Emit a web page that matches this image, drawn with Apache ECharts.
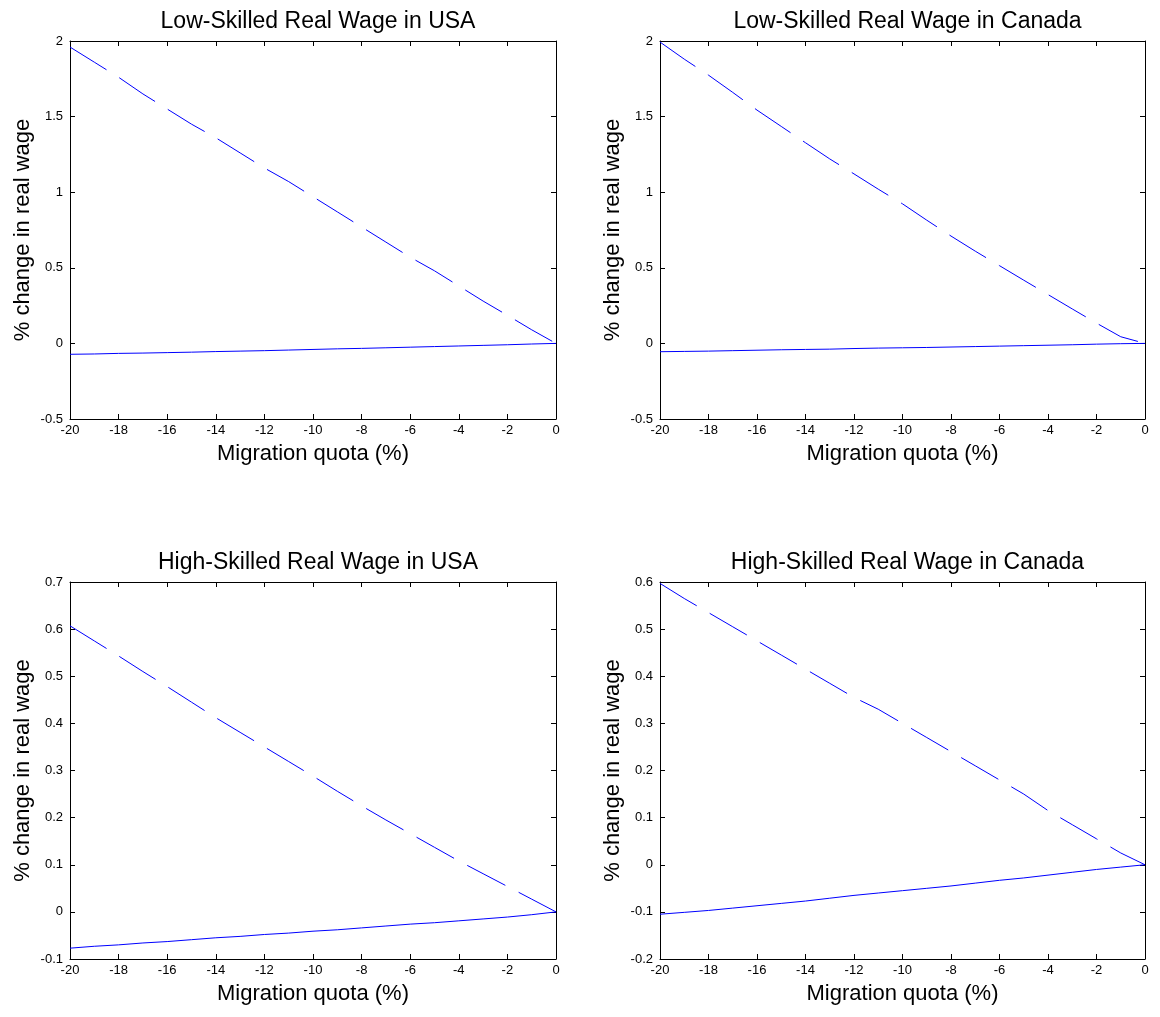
<!DOCTYPE html>
<html>
<head>
<meta charset="utf-8">
<script src="https://cdn.jsdelivr.net/npm/echarts@6/dist/echarts.min.js"></script>
<style>
html,body{margin:0;padding:0;background:#fff;}
#c{width:1160px;height:1017px;}
</style>
</head>
<body>
<div id="c"></div>
<script>
var quota = [-20,-19,-18,-17,-16,-15,-14,-13,-12,-11,-10,-9,-8,-7,-6,-5,-4,-3,-2,-1,0];
var xTicks = [-20,-18,-16,-14,-12,-10,-8,-6,-4,-2,0];

var titles = ['Low-Skilled Real Wage in USA','Low-Skilled Real Wage in Canada','High-Skilled Real Wage in USA','High-Skilled Real Wage in Canada'];
var xName = 'Migration quota (%)';
var yName = '% change in real wage';

// Low-skilled USA
var lowUsaDashed = [1.96,1.86,1.76,1.65,1.55,1.45,1.36,1.26,1.16,1.07,0.97,0.87,0.77,0.67,0.57,0.48,0.38,0.28,0.186,0.09,0];
var lowUsaSolid = [-0.072,-0.070,-0.066,-0.064,-0.061,-0.058,-0.054,-0.051,-0.048,-0.044,-0.040,-0.036,-0.033,-0.029,-0.025,-0.021,-0.017,-0.013,-0.009,-0.004,0];
// Low-skilled Canada
var lowCanDashed = [1.993,1.88,1.774,1.66,1.543,1.435,1.327,1.22,1.121,1.02,0.923,0.815,0.710,0.61,0.514,0.418,0.323,0.228,0.134,0.044,0];
var lowCanSolid = [-0.055,-0.053,-0.051,-0.048,-0.045,-0.042,-0.040,-0.038,-0.034,-0.031,-0.029,-0.027,-0.024,-0.021,-0.018,-0.015,-0.012,-0.009,-0.005,-0.002,0];
// High-skilled USA
var highUsaDashed = [0.607,0.575,0.543,0.510,0.478,0.445,0.412,0.381,0.350,0.319,0.288,0.256,0.225,0.195,0.166,0.137,0.108,0.081,0.054,0.027,0];
var highUsaSolid = [-0.077,-0.073,-0.070,-0.066,-0.063,-0.059,-0.055,-0.052,-0.048,-0.045,-0.041,-0.038,-0.034,-0.030,-0.026,-0.023,-0.019,-0.015,-0.011,-0.006,0];
// High-skilled Canada
var highCanDashed = [0.597,0.565,0.535,0.505,0.475,0.445,0.415,0.385,0.355,0.33,0.30,0.27,0.24,0.21,0.18,0.15,0.115,0.085,0.055,0.025,0];
var highCanSolid = [-0.105,-0.101,-0.097,-0.092,-0.087,-0.082,-0.077,-0.071,-0.065,-0.060,-0.055,-0.050,-0.045,-0.039,-0.033,-0.028,-0.022,-0.016,-0.010,-0.005,0];

var yRanges = [
  {min:-0.5, max:2, interval:0.5},
  {min:-0.5, max:2, interval:0.5},
  {min:-0.1, max:0.7, interval:0.1},
  {min:-0.2, max:0.6, interval:0.1}
];
var dashedSets = [lowUsaDashed, lowCanDashed, highUsaDashed, highCanDashed];
var solidSets = [lowUsaSolid, lowCanSolid, highUsaSolid, highCanSolid];

var FONT = '"Liberation Sans", Arial, sans-serif';
var grids = [
  {left:70, right:604, top:41, height:378},
  {left:660, right:15, top:41, height:378},
  {left:70, right:604, top:582, height:377},
  {left:660, right:15, top:582, height:377}
];

function pairs(vals){ return quota.map(function(q,i){ return [q, vals[i]]; }); }

var option = {
  animation:false,
  backgroundColor:'#fff',
  title:[], grid:[], xAxis:[], yAxis:[], series:[]
};
var axLine = {show:true, onZero:false, lineStyle:{color:'#000', width:1}};
var axTick = {show:true, inside:true, length:5, lineStyle:{color:'#000', width:1}};

grids.forEach(function(g, k){
  option.grid.push({left:g.left, right:g.right, top:g.top, height:g.height, containLabel:false});
  var cx = g.left + (1160 - g.left - g.right)/2;
  option.title.push({text:titles[k], left:cx, top:g.top-36, textAlign:'center',
    textStyle:{fontFamily:FONT, fontSize:23, fontWeight:'normal', color:'#000'}});
  option.xAxis.push({type:'value', gridIndex:k, position:'bottom', min:-20, max:0, interval:2,
    axisLine:axLine, axisTick:axTick, splitLine:{show:false},
    axisLabel:{fontFamily:FONT, fontSize:13, color:'#000', margin:5, showMinLabel:true, showMaxLabel:true},
    name:xName, nameLocation:'middle', nameGap:24,
    nameTextStyle:{fontFamily:FONT, fontSize:22, color:'#000'}});
  option.xAxis.push({type:'value', gridIndex:k, position:'top', min:-20, max:0, interval:2,
    axisLine:axLine, axisTick:axTick, splitLine:{show:false}, axisLabel:{show:false}});
  var yr = yRanges[k];
  option.yAxis.push({type:'value', gridIndex:k, position:'left', min:yr.min, max:yr.max, interval:yr.interval,
    axisLine:axLine, axisTick:axTick, splitLine:{show:false},
    axisLabel:{fontFamily:FONT, fontSize:13, color:'#000', margin:7},
    name:yName, nameLocation:'middle', nameGap:36,
    nameTextStyle:{fontFamily:FONT, fontSize:22, color:'#000'}});
  option.yAxis.push({type:'value', gridIndex:k, position:'right', min:yr.min, max:yr.max, interval:yr.interval,
    axisLine:axLine, axisTick:axTick, splitLine:{show:false}, axisLabel:{show:false}});
  option.series.push({type:'line', xAxisIndex:2*k, yAxisIndex:2*k, data:pairs(dashedSets[k]),
    showSymbol:false, symbol:'none', lineStyle:{color:'#0000ff', width:1, type:[43,15]}});
  option.series.push({type:'line', xAxisIndex:2*k, yAxisIndex:2*k, data:pairs(solidSets[k]),
    showSymbol:false, symbol:'none', lineStyle:{color:'#0000ff', width:1, type:'solid'}});
});

var chart = echarts.init(document.getElementById('c'), null, {renderer:'canvas'});
chart.setOption(option);
</script>
</body>
</html>
